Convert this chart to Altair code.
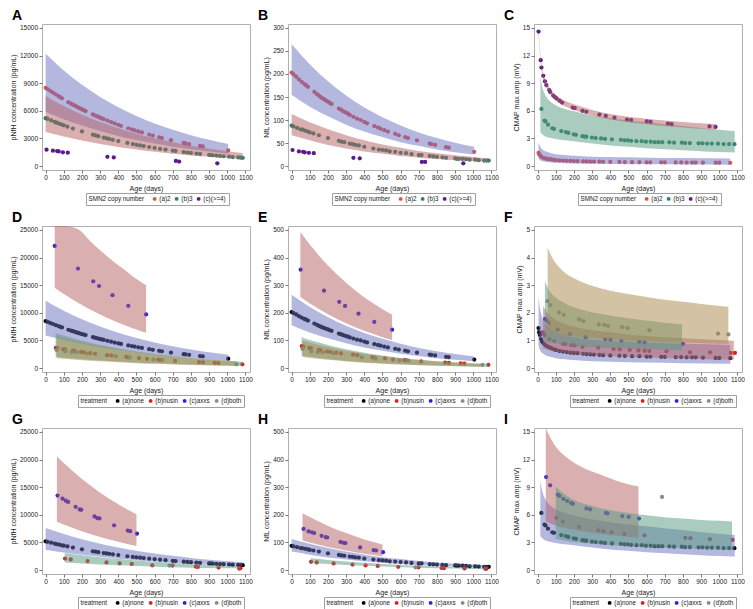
import altair as alt
import pandas as pd

FONT = "Liberation Sans"
W, H = 208, 146

# ---------------- data ----------------
# SMN2 copy number 2 / treatment none (pNfH, NfL)
age_a = [0, 10, 25, 40, 55, 70, 80, 90, 125, 140, 150, 160, 170, 180, 190, 200, 210, 220,
         260, 270, 280, 290, 300, 310, 320, 340, 360, 380, 400, 415, 455, 475, 490, 510, 530,
         570, 590, 625, 640, 690, 760, 770, 790, 850, 865, 1005]
pnfh_a = [8500, 8365, 8170, 7980, 7790, 7600, 7480, 7360, 6940, 6780, 6670, 6570, 6460, 6360,
          6260, 6160, 6070, 5970, 5610, 5520, 5430, 5350, 5260, 5180, 5100, 4940, 4780, 4630,
          4480, 4380, 4110, 3990, 3890, 3770, 3650, 3420, 3320, 3130, 3050, 2820, 2520, 2480,
          2400, 2190, 2140, 1700]
nfl_a = [203, 199, 194, 188, 183, 178, 175, 172, 161, 156, 153, 150, 147, 145, 142, 140, 137, 135,
         125, 123, 120, 118, 116, 114, 111, 107, 103, 100, 96, 93, 87, 84, 81, 78, 75,
         70, 67, 63, 61, 56, 49, 48, 46, 41, 40, 31]

# SMN2 copy number 3
age_b = [0, 10, 30, 50, 60, 75, 90, 100, 120, 150, 200, 260, 275, 290, 320, 335, 350, 370, 400, 450,
         480, 500, 520, 540, 570, 600, 630, 660, 700, 715, 760, 780, 800, 830, 850, 900, 910, 920,
         940, 960, 980, 1010, 1030, 1060, 1075, 1085]
pnfh_b = [5200, 5117, 4953, 4796, 4719, 4606, 4496, 4424, 4283, 4078, 3761, 3409, 3327, 3248, 3094,
          3020, 2948, 2855, 2722, 2510, 2392, 2318, 2245, 2175, 2073, 1976, 1883, 1795, 1683, 1643,
          1527, 1479, 1432, 1365, 1322, 1219, 1200, 1180, 1143, 1107, 1072, 1022, 989, 943, 920, 900]
nfl_b = [88, 86, 83, 80, 79, 77, 75, 73, 71, 67, 61, 55, 53, 52, 49, 48, 46, 45, 42, 38,
         36, 35, 34, 32, 31, 29, 28, 26, 24, 24, 22, 21, 20, 19, 18, 17, 16, 16, 16, 15,
         14, 14, 13, 12, 12, 12]

# SMN2 copy number >=4
age_c = [5, 40, 63, 72, 95, 122, 340, 375, 717, 735, 945]
pnfh_c = [1780, 1670, 1640, 1600, 1500, 1460, 1010, 940, 560, 490, 310]
nfl_c = [35, 32, 31, 30, 29, 28, 18, 17, 9, 9, 6]

# CMAP series
cmap_age_a = [5, 8, 12, 18, 25, 35, 45, 55, 65, 75, 90, 100, 120, 140, 160, 180, 200, 220, 250, 270,
              290, 310, 340, 360, 400, 450, 480, 520, 560, 600, 620, 680, 700, 760, 790, 820, 850,
              870, 910, 980, 1000, 1060]
cmap_a = [1.45, 1.3, 1.2, 1.05, 0.95, 0.88, 0.82, 0.78, 0.75, 0.72, 0.68, 0.66, 0.62, 0.6, 0.58,
          0.56, 0.55, 0.54, 0.52, 0.51, 0.5, 0.49, 0.48, 0.47, 0.46, 0.45, 0.44, 0.43, 0.43, 0.42,
          0.42, 0.41, 0.41, 0.4, 0.4, 0.39, 0.39, 0.39, 0.38, 0.37, 0.37, 0.36]
cmap_age_b = [21, 38, 43, 57, 81, 90, 130, 155, 169, 199, 211, 247, 259, 268, 299, 320, 349, 371,
              409, 458, 478, 496, 515, 544, 573, 596, 622, 644, 665, 686, 725, 751, 794, 812, 838,
              886, 907, 933, 959, 993, 1024, 1054, 1083]
cmap_b = [6.2, 4.95, 4.85, 4.5, 4.1, 4.05, 3.8, 3.7, 3.6, 3.45, 3.4, 3.25, 3.2, 3.2, 3.1, 3.05, 3.0,
          2.95, 2.9, 2.85, 2.8, 2.8, 2.75, 2.7, 2.7, 2.65, 2.65, 2.6, 2.6, 2.6, 2.58, 2.55, 2.55,
          2.5, 2.5, 2.47, 2.47, 2.45, 2.45, 2.43, 2.4, 2.4, 2.38]
cmap_age_c = [5, 17, 21, 31, 40, 48, 64, 69, 86, 95, 104, 121, 135, 193, 204, 247, 268, 340, 375,
              423, 492, 515, 601, 622, 717, 737, 946, 979]
cmap_c = [14.6, 11.5, 10.7, 9.8, 9.2, 8.8, 8.25, 8.05, 7.65, 7.5, 7.35, 7.1, 6.9, 6.35, 6.3, 6.0,
          5.9, 5.6, 5.45, 5.25, 5.05, 5.0, 4.85, 4.8, 4.6, 4.55, 4.3, 4.25]

# treatment groups (copy number 2 cohort: D, E, F)
axxs2_age = [50, 178, 262, 294, 368, 455, 553]
axxs2_pnfh = [22100, 18000, 15700, 14850, 13200, 11260, 9700]
axxs2_nfl = [356, 280, 240, 225, 197, 167, 139]
nus2_age = [56, 64, 97, 106, 150, 159, 194, 211, 246, 272, 338, 361, 444, 456, 514, 558, 620, 632,
            713, 845, 866, 931, 951, 1083]
nus2_pnfh = [3650, 3620, 3400, 3380, 3150, 3120, 2960, 2850, 2730, 2600, 2350, 2290, 2020, 1960,
             1810, 1680, 1540, 1490, 1320, 1070, 1050, 950, 910, 690]
nus2_nfl = [80, 78, 73, 72, 66, 65, 60, 59, 56, 53, 49, 47, 39, 38, 35, 31, 29, 28, 24, 20, 19,
            17, 16, 12]
both2_age = [60, 109, 144, 170, 229, 386, 463, 593, 643, 1051]
both2_pnfh = [3300, 3050, 2900, 2850, 2600, 2150, 1900, 1550, 1450, 700]
both2_nfl = [70, 60, 58, 57, 54, 39, 34, 28, 27, 12]
nus2c_age = [29, 38, 65, 92, 140, 154, 185, 204, 247, 334, 418, 452, 507, 555, 589, 615, 709, 839,
             949, 1063, 1086]
nus2c = [1.29, 1.19, 1.05, 0.98, 0.88, 0.87, 0.83, 0.82, 0.77, 0.74, 0.69, 0.68, 0.66, 0.64, 0.63,
         0.62, 0.61, 0.57, 0.57, 0.55, 0.55]
axxs2c_age = [41, 50, 63, 110, 178, 264, 372, 401, 461, 560, 589, 800]
axxs2c = [1.78, 1.72, 1.64, 1.39, 1.24, 1.12, 1.04, 1.03, 0.98, 0.95, 0.93, 0.88]
both2c_age = [55, 70, 118, 144, 229, 252, 337, 366, 387, 466, 495, 615, 993, 1050]
both2c = [2.42, 2.28, 2.01, 1.93, 1.76, 1.7, 1.58, 1.56, 1.53, 1.48, 1.45, 1.37, 1.25, 1.22]

# treatment groups (copy number 3 cohort: G, H, I)
axxs3_age = [66, 93, 111, 124, 165, 188, 196, 269, 285, 296, 377, 452, 465, 503]
axxs3_pnfh = [13490, 12910, 12560, 12320, 11450, 10980, 10900, 9700, 9400, 9350, 8100, 7150, 7050, 6600]
axxs3_nfl = [149, 140, 137, 134, 124, 119, 118, 102, 99, 98, 82, 72, 71, 65]
nus3_age = [107, 138, 231, 335, 407, 474, 587, 698, 826, 838, 952, 1066, 1072]
nus3_pnfh = [2100, 1930, 1640, 1400, 1230, 1110, 880, 820, 640, 580, 470, 290, 350]
nus3_nfl = [30, 28, 24, 20, 17, 15, 12, 10, 8, 7, 6, 5, 5]
both3_age = [682]
both3_pnfh = [820]
both3_nfl = [10]
axxs3c_age = [47, 69, 111, 120, 142, 163, 185, 194, 269, 289, 376, 385, 466, 501, 558]
axxs3c = [10.1, 9.2, 8.2, 8.05, 7.73, 7.5, 7.27, 7.2, 6.7, 6.6, 6.2, 6.15, 5.87, 5.77, 5.6]
nus3c_age = [104, 139, 229, 333, 362, 407, 477, 588, 813, 841, 948, 1073]
nus3c = [5.67, 5.24, 4.69, 4.3, 4.23, 4.09, 3.92, 3.78, 3.5, 3.46, 3.36, 3.29]
both3c_age = [685]
both3c = [7.94]

# ---------------- confidence bands ----------------
bA1_x = [0, 100, 200, 300, 400, 500, 600, 700, 800, 900, 1005]
bA1_hi = [12200, 10380, 8830, 7510, 6390, 5440, 4630, 3940, 3350, 2850, 2400]
bA1_lo = [5900, 5095, 4400, 3800, 3282, 2834, 2447, 2113, 1825, 1576, 1350]
bA2_x = [0, 100, 200, 300, 400, 500, 600, 700, 800, 900, 1000, 1085]
bA2_hi = [7600, 6515, 5583, 4785, 4101, 3515, 3013, 2582, 2213, 1897, 1626, 1430]
bA2_lo = [3700, 3202, 2771, 2398, 2075, 1796, 1554, 1345, 1164, 1007, 871, 770]

bB1_x = [0, 100, 200, 300, 400, 500, 600, 700, 800, 900, 1005]
bB1_hi = [265, 221, 184, 153, 127, 106, 88, 73, 61, 51, 42]
bB1_lo = [155, 129, 108, 90, 75, 63, 52, 44, 36, 30, 25]
bB2_x = [0, 100, 200, 300, 400, 500, 600, 700, 800, 900, 1000, 1085]
bB2_hi = [113, 95, 80, 67, 56, 47, 40, 33, 28, 23.5, 20, 17]
bB2_lo = [67, 56, 46, 38.5, 32, 26.6, 22, 18.4, 15.3, 12.7, 10.5, 9]

bC1_x = [5, 10, 20, 35, 50, 75, 100, 150, 200, 300, 400, 500, 600, 800, 1060]
bC1_hi = [2.6, 2.3, 1.95, 1.7, 1.55, 1.4, 1.3, 1.2, 1.12, 1.03, 0.98, 0.95, 0.92, 0.88, 0.84]
bC1_lo = [0.85, 0.7, 0.58, 0.5, 0.45, 0.4, 0.36, 0.32, 0.29, 0.25, 0.23, 0.21, 0.2, 0.18, 0.16]
bC2_x = [15, 25, 40, 60, 100, 150, 200, 300, 400, 500, 600, 700, 800, 900, 1000, 1085]
bC2_hi = [9.7, 8.6, 7.8, 7.2, 6.6, 6.2, 5.95, 5.5, 5.2, 4.95, 4.75, 4.55, 4.35, 4.15, 3.95, 3.8]
bC2_lo = [3.7, 3.45, 3.25, 3.1, 2.95, 2.8, 2.7, 2.45, 2.25, 2.1, 1.95, 1.83, 1.72, 1.62, 1.54, 1.47]
bC3_x = [5, 15, 25, 40, 60, 80, 100, 150, 200, 300, 400, 500, 600, 700, 800, 900, 980]
bC3_hi = [14.9, 12.1, 10.6, 9.5, 8.7, 8.1, 7.7, 7.1, 6.7, 6.1, 5.65, 5.35, 5.15, 4.95, 4.8, 4.65, 4.55]
bC3_lo = [14.3, 11.5, 10.0, 8.9, 8.1, 7.5, 7.1, 6.5, 6.1, 5.5, 5.05, 4.75, 4.55, 4.35, 4.2, 4.05, 3.95]

bD3_x = [50, 100, 178, 250, 300, 350, 400, 450, 500, 553]
bD3_hi = [30000, 28000, 25100, 22800, 21300, 19900, 18600, 17400, 16100, 15000]
bD3_lo = [14550, 13420, 11800, 10500, 9680, 8920, 8220, 7575, 6980, 6400]
bD2_x = [55, 100, 200, 300, 400, 500, 600, 700, 800, 900, 1000, 1085]
bD2_hi = [6300, 5850, 4960, 4200, 3570, 3020, 2560, 2170, 1840, 1560, 1325, 1150]
bD2_lo = [2000, 1870, 1610, 1380, 1190, 1020, 876, 753, 647, 556, 478, 420]
bD4_x = [60, 100, 200, 300, 400, 500, 600, 700, 800, 900, 1050]
bD4_hi = [5700, 5360, 4600, 3950, 3390, 2910, 2500, 2140, 1840, 1580, 1255]
bD4_lo = [1800, 1690, 1445, 1235, 1055, 902, 771, 659, 563, 481, 380]

bE3_x = [48, 100, 200, 300, 400, 500, 553]
bE3_hi = [492, 447, 371, 309, 256, 213, 193]
bE3_lo = [257, 234, 195, 162, 135, 112, 102]
bE2_x = [55, 100, 200, 300, 400, 500, 600, 700, 800, 900, 1000, 1085]
bE2_hi = [112, 102, 84, 68, 56, 46, 37, 30.5, 25, 20, 16.6, 14]
bE2_lo = [45, 41, 33, 26.7, 21.6, 17.4, 14.1, 11.4, 9.2, 7.4, 6, 5]
bE4_x = [60, 100, 200, 300, 400, 500, 600, 700, 800, 900, 1050]
bE4_hi = [100, 93, 76, 63, 52, 43, 35.5, 29, 24, 20, 15]
bE4_lo = [40, 37, 30, 24, 19.6, 15.9, 12.9, 10.4, 8.5, 6.9, 5]

bF2_x = [30, 60, 100, 200, 300, 400, 500, 600, 800, 1080]
bF2_hi = [2.25, 1.95, 1.75, 1.5, 1.38, 1.3, 1.22, 1.16, 1.08, 0.99]
bF2_lo = [0.72, 0.66, 0.6, 0.5, 0.46, 0.43, 0.4, 0.38, 0.34, 0.3]
bF3_x = [40, 60, 100, 150, 200, 300, 400, 500, 600, 700, 795]
bF3_hi = [3.15, 2.85, 2.55, 2.35, 2.2, 2.02, 1.9, 1.8, 1.72, 1.64, 1.58]
bF3_lo = [1.0, 0.95, 0.9, 0.85, 0.8, 0.76, 0.72, 0.7, 0.68, 0.66, 0.65]
bF4_x = [55, 80, 100, 150, 200, 300, 400, 500, 600, 700, 800, 900, 1050]
bF4_hi = [4.35, 4.0, 3.8, 3.45, 3.25, 2.98, 2.8, 2.68, 2.57, 2.47, 2.4, 2.32, 2.22]
bF4_lo = [1.35, 1.3, 1.25, 1.2, 1.15, 1.1, 1.05, 1.01, 0.98, 0.95, 0.93, 0.91, 0.88]

bG3_x = [62, 100, 200, 300, 400, 500]
bG3_hi = [20600, 19360, 16460, 13990, 11890, 10100]
bG3_lo = [8760, 8250, 7040, 6010, 5130, 4380]
bG2_x = [105, 200, 300, 400, 500, 600, 700, 800, 900, 1000, 1070]
bG2_hi = [3100, 2700, 2330, 2020, 1745, 1510, 1300, 1125, 973, 840, 760]
bG2_lo = [1400, 1200, 1020, 865, 735, 625, 531, 451, 383, 325, 290]

bH3_x = [60, 100, 200, 300, 400, 500]
bH3_hi = [206, 192, 160, 134, 111, 93]
bH3_lo = [107, 100, 84, 71, 59, 50]
bH2_x = [105, 200, 300, 400, 500, 600, 700, 800, 900, 1000, 1070]
bH2_hi = [43, 37, 31, 26.5, 22.5, 19, 16, 13.5, 11.5, 9.5, 8.5]
bH2_lo = [26, 22, 18.5, 15.5, 13, 10.5, 8.5, 7, 5.5, 4.5, 4]

bI3_x = [45, 64, 100, 168, 250, 341, 450, 555]
bI3_hi = [16.5, 14.6, 13.4, 12.1, 11.1, 10.4, 9.6, 9.06]
bI3_lo = [5.3, 5.1, 4.85, 4.5, 4.2, 3.95, 3.7, 3.5]
bI2_x = [100, 150, 200, 300, 400, 500, 600, 700, 800, 900, 1000, 1070]
bI2_hi = [9.05, 8.2, 7.6, 6.95, 6.5, 6.2, 5.95, 5.75, 5.6, 5.45, 5.35, 5.28]
bI2_lo = [3.4, 3.2, 3.05, 2.85, 2.7, 2.6, 2.5, 2.42, 2.35, 2.28, 2.22, 2.18]

# ---------------- styling ----------------
BLUE = "#6a6fbd"
RED = "#b45f62"
GREEN = "#55997f"
TAN = "#a8884a"

SMN_LABELS = ["(a)2", "(b)3", "(c)(>=4)"]
SMN_COLORS = ["#e0524f", "#2a7f6f", "#5c1a8a"]
TRT_LABELS = ["(a)none", "(b)nusin", "(c)axxs", "(d)both"]
TRT_COLORS = ["#000000", "#d42222", "#2424e0", "#8a8a8a"]

YT_PNFH = "pNfH concentration (pg/mL)"
YT_NFL = "NfL concentration (pg/mL)"
YT_CMAP = "CMAP max amp (mV)"


def panel(letter, ytitle, ymax, ystep, groups, bands, legend_title, labels, colors, legend_x):
    pad = ymax * 0.028
    xscale = alt.Scale(domain=[-20, 1125], nice=False, zero=False)
    yscale = alt.Scale(domain=[-pad, ymax + pad], nice=False, zero=False, clamp=True)
    nt = int(round(ymax / ystep)) + 1
    yticks = [round(i * ystep, 6) for i in range(nt)]
    xaxis = alt.Axis(values=list(range(0, 1101, 100)), format="d", labelOverlap=False, tickCount=12)
    yaxis = alt.Axis(values=yticks, format="d", labelOverlap=False, tickCount=nt, labelBound=False)
    xenc = alt.X("age:Q", scale=xscale, title="Age (days)", axis=xaxis)
    rows = []
    for lab, xs, ys in groups:
        for x, y in zip(xs, ys):
            rows.append({"age": x, "val": y, "grp": lab})
    pts = alt.Chart(pd.DataFrame(rows)).mark_circle(size=18, opacity=1).encode(
        x=xenc,
        y=alt.Y("val:Q", scale=yscale, title=ytitle, axis=yaxis),
        color=alt.Color("grp:N", scale=alt.Scale(domain=labels, range=colors),
                        legend=alt.Legend(title=legend_title, orient="none",
                                          legendX=legend_x, legendY=H + 23,
                                          direction="horizontal", titleOrient="left",
                                          strokeColor="#a0a0a0", padding=2.5,
                                          symbolSize=15, symbolType="circle",
                                          labelFontSize=6.3, titleFontSize=6.3,
                                          titleFontWeight="normal", titlePadding=7,
                                          columnPadding=3, labelOffset=1.5,
                                          labelColor="#222", titleColor="#222")),
    )
    layers = [pts]
    for xs, lo, hi, col in bands:
        df = pd.DataFrame({"age": xs, "lo": lo, "hi": hi})
        layers.append(
            alt.Chart(df).mark_area(color=col, opacity=0.5, interpolate="monotone").encode(
                x=xenc,
                y=alt.Y("hi:Q", scale=yscale, title=ytitle, axis=yaxis),
                y2="lo:Q",
            )
        )
    return alt.layer(*layers).properties(
        width=W, height=H,
        title=alt.TitleParams(letter, anchor="start", frame="group", fontSize=14,
                              fontWeight="bold", dx=-30, offset=1, color="black", font=FONT),
    )


smn = ("SMN2 copy number", SMN_LABELS, SMN_COLORS, 44)
trt = ("treatment", TRT_LABELS, TRT_COLORS, 36)

pA = panel("A", YT_PNFH, 15000, 3000,
           [("(a)2", age_a, pnfh_a), ("(b)3", age_b, pnfh_b), ("(c)(>=4)", age_c, pnfh_c)],
           [(bA1_x, bA1_lo, bA1_hi, BLUE), (bA2_x, bA2_lo, bA2_hi, RED)], *smn)
pB = panel("B", YT_NFL, 300, 50,
           [("(a)2", age_a, nfl_a), ("(b)3", age_b, nfl_b), ("(c)(>=4)", age_c, nfl_c)],
           [(bB1_x, bB1_lo, bB1_hi, BLUE), (bB2_x, bB2_lo, bB2_hi, RED)], *smn)
pC = panel("C", YT_CMAP, 15, 3,
           [("(a)2", cmap_age_a, cmap_a), ("(b)3", cmap_age_b, cmap_b), ("(c)(>=4)", cmap_age_c, cmap_c)],
           [(bC1_x, bC1_lo, bC1_hi, BLUE), (bC2_x, bC2_lo, bC2_hi, GREEN), (bC3_x, bC3_lo, bC3_hi, RED)], *smn)

pD = panel("D", YT_PNFH, 25000, 5000,
           [("(a)none", age_a, pnfh_a), ("(b)nusin", nus2_age, nus2_pnfh),
            ("(c)axxs", axxs2_age, axxs2_pnfh), ("(d)both", both2_age, both2_pnfh)],
           [(bA1_x, bA1_lo, bA1_hi, BLUE), (bD3_x, bD3_lo, bD3_hi, RED),
            (bD2_x, bD2_lo, bD2_hi, GREEN), (bD4_x, bD4_lo, bD4_hi, TAN)], *trt)
pE = panel("E", YT_NFL, 500, 100,
           [("(a)none", age_a, nfl_a), ("(b)nusin", nus2_age, nus2_nfl),
            ("(c)axxs", axxs2_age, axxs2_nfl), ("(d)both", both2_age, both2_nfl)],
           [(bB1_x, bB1_lo, bB1_hi, BLUE), (bE3_x, bE3_lo, bE3_hi, RED),
            (bE2_x, bE2_lo, bE2_hi, GREEN), (bE4_x, bE4_lo, bE4_hi, TAN)], *trt)
pF = panel("F", YT_CMAP, 5, 1,
           [("(a)none", cmap_age_a, cmap_a), ("(b)nusin", nus2c_age, nus2c),
            ("(c)axxs", axxs2c_age, axxs2c), ("(d)both", both2c_age, both2c)],
           [(bC1_x, bC1_lo, bC1_hi, BLUE), (bF2_x, bF2_lo, bF2_hi, RED),
            (bF3_x, bF3_lo, bF3_hi, GREEN), (bF4_x, bF4_lo, bF4_hi, TAN)], *trt)

pG = panel("G", YT_PNFH, 25000, 5000,
           [("(a)none", age_b, pnfh_b), ("(b)nusin", nus3_age, nus3_pnfh),
            ("(c)axxs", axxs3_age, axxs3_pnfh), ("(d)both", both3_age, both3_pnfh)],
           [(bA2_x, bA2_lo, bA2_hi, BLUE), (bG3_x, bG3_lo, bG3_hi, RED),
            (bG2_x, bG2_lo, bG2_hi, GREEN)], *trt)
pH = panel("H", YT_NFL, 500, 100,
           [("(a)none", age_b, nfl_b), ("(b)nusin", nus3_age, nus3_nfl),
            ("(c)axxs", axxs3_age, axxs3_nfl), ("(d)both", both3_age, both3_nfl)],
           [(bB2_x, bB2_lo, bB2_hi, BLUE), (bH3_x, bH3_lo, bH3_hi, RED),
            (bH2_x, bH2_lo, bH2_hi, GREEN)], *trt)
pI = panel("I", YT_CMAP, 15, 3,
           [("(a)none", cmap_age_b, cmap_b), ("(b)nusin", nus3c_age, nus3c),
            ("(c)axxs", axxs3c_age, axxs3c), ("(d)both", both3c_age, both3c)],
           [(bC2_x, bC2_lo, bC2_hi, BLUE), (bI3_x, bI3_lo, bI3_hi, RED),
            (bI2_x, bI2_lo, bI2_hi, GREEN)], *trt)

chart = alt.concat(pA, pB, pC, pD, pE, pF, pG, pH, pI, columns=3, spacing=4).resolve_scale(
    color="independent", x="independent", y="independent"
).configure(font=FONT, padding=0).configure_view(
    stroke="#b0b0b0", strokeWidth=1
).configure_axis(
    grid=False, domain=False, tickColor="#777", tickSize=3, labelFontSize=6.5,
    titleFontSize=7, titleFontWeight="normal", labelColor="#222", titleColor="#222",
    labelPadding=1.5, titlePadding=3, labelFont=FONT, titleFont=FONT, labelOverlap=False
).configure_axisY(labelOverlap=False)

chart.save("out.html", embed_options={"renderer": "svg", "actions": False})
